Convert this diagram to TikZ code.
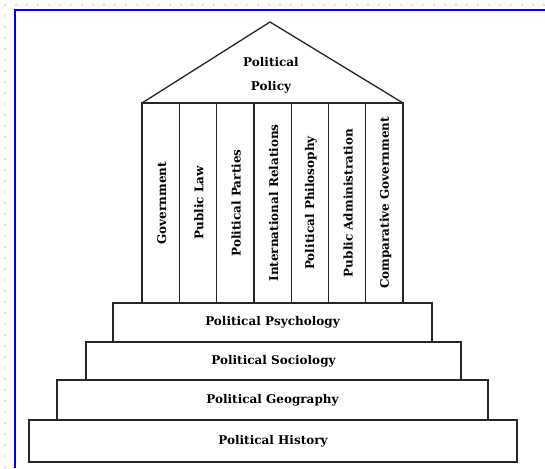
\documentclass[tikz,border=0pt]{standalone}
\usepackage{fontspec}
\setmainfont{DejaVu Serif}
\tikzset{
  ink/.style={line width=1.3pt, draw=black!85},
  stepbox/.style={ink, rectangle, inner sep=0pt, font=\bfseries\fontsize{12}{14}\selectfont},
  pillar/.style={ink, rectangle, inner sep=0pt, minimum width=37.3pt, minimum height=200pt},
  pillartext/.style={rotate=90, inner sep=0pt, font=\bfseries\fontsize{12}{14}\selectfont},
  griddot/.style={fill=black!25, draw=none},
}
\begin{document}
\begin{tikzpicture}[x=1pt,y=-1pt]
\useasboundingbox (0,0) rectangle (545,468);
\fill[white] (0,0) rectangle (545,468);
% dotted grid remnants
\foreach \i in {0,...,49} { \fill[griddot] (5+11*\i,5) circle (0.8pt); }
\foreach \j in {1,...,42} { \fill[griddot] (5,5+11*\j) circle (0.8pt); }
% blue frame
\draw[blue, line width=2pt] (15,468) -- (15,10) -- (545,10);
% roof
\coordinate (apex) at (270,22);
\coordinate (rl) at (142,103);
\coordinate (rr) at (403,103);
\draw[ink, line join=round] (rl) -- (apex) -- (rr) -- cycle;
\node[align=center, font=\bfseries\fontsize{12}{24}\selectfont] (roof) at (271,75) {Political\\Policy};
% pillars
\foreach \n/\t [count=\k from 0] in {p1/Government,p2/Public Law,p3/Political Parties,p4/International Relations,p5/Political Philosophy,p6/Public Administration,p7/Comparative Government} {
  \node[pillar] (\n) at ({142+37.3*(\k+0.5)},203) {};
  \node[pillartext] (\n t) at ([xshift=1pt]\n.center) {\t};
}
% steps
\node[stepbox, minimum width=319pt, minimum height=39pt] (psy) at (272.5,322.5) {Political Psychology};
\node[stepbox, minimum width=375pt, minimum height=38pt] (soc) at (273.5,361) {Political Sociology};
\node[stepbox, minimum width=431pt, minimum height=40pt] (geo) at (272.5,400) {Political Geography};
\node[stepbox, minimum width=488pt, minimum height=42pt] (his) at (273,441) {Political History};
\end{tikzpicture}
\end{document}
